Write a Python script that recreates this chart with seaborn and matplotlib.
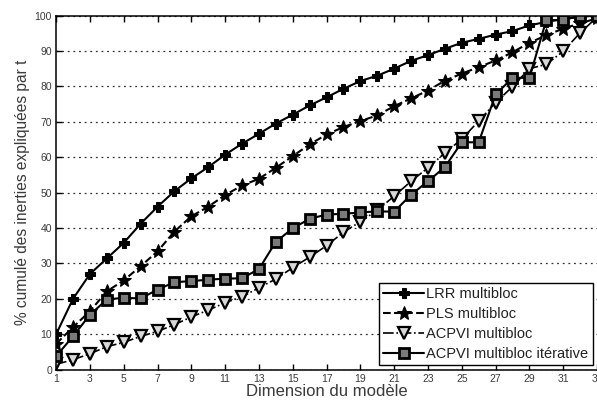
import matplotlib
matplotlib.use("Agg")
import matplotlib.pyplot as plt
import numpy as np
import seaborn as sns

# model dimension (1..33)
dims = list(range(1, 34))

# cumulative % of explained inertia
lrr = [10, 20, 27, 31.4, 35.8, 41.2, 46, 50.4, 54, 57.2, 60.7, 63.8, 66.6,
       69.5, 72, 74.6, 76.9, 79.3, 81.5, 83, 85, 87.2, 88.8, 90.6, 92.3,
       93.4, 94.6, 95.6, 97.2, 98.2, 99, 99.6, 100]
pls = [7.3, 12, 16.5, 22.1, 25.2, 29.2, 33.4, 39, 43.3, 46, 49.3, 52, 53.9,
       57, 60.3, 63.6, 66.4, 68.5, 70.2, 71.8, 74.4, 76.6, 78.8, 81.6, 83.6,
       85.4, 87.3, 89.6, 92.3, 94.4, 96.3, 97.8, 99.2]
acpvi = [1.5, 2.8, 4.5, 6.5, 7.7, 9.4, 10.8, 12.7, 14.9, 16.8, 18.9, 20.6,
         23.1, 25.6, 28.8, 31.8, 35, 38.8, 41.8, 45, 49, 53.2, 57, 61.2, 65.1,
         70.2, 75.4, 79.9, 85, 86.2, 89.9, 95.1, 99.5]
acpvi_it = [3.8, 9.4, 15.5, 19.8, 20.3, 20.1, 22.6, 24.7, 25, 25.4, 25.7,
            25.8, 28.4, 36.1, 39.9, 42.6, 43.8, 44, 44.4, 44.7, 44.6, 49.4,
            53.2, 57.2, 64.2, 64.2, 77.7, 82.4, 82.4, 98.7, 98.7, 100, 100]

xticks = list(range(1, 34, 2))
yticks = list(range(0, 101, 10))

sns.set_style("white")
plt.rcParams["font.family"] = ["Liberation Sans", "DejaVu Sans"]

fig = plt.figure(figsize=(5.97, 4.08), dpi=100)
ax = fig.add_axes([0.094, 0.094, 0.906, 0.868])

txt = "#3a3a3a"
sns.lineplot(x=dims, y=lrr, ax=ax, color="black", lw=1.5, linestyle="-",
             marker="P", markersize=7.5, markerfacecolor="black",
             markeredgecolor="black", label="LRR multibloc")
sns.lineplot(x=dims, y=pls, ax=ax, color="black", lw=1.5, linestyle="--",
             dashes=(4, 2), marker="*", markersize=10.5,
             markerfacecolor="black", markeredgecolor="black",
             label="PLS multibloc")
sns.lineplot(x=dims, y=acpvi, ax=ax, color="black", lw=1.2, linestyle="-.",
             marker="v", markersize=8.5, markerfacecolor="#d8d8d8",
             markeredgecolor="black", markeredgewidth=1.6,
             label="ACPVI multibloc")
sns.lineplot(x=dims, y=acpvi_it, ax=ax, color="black", lw=1.5, linestyle="-",
             marker="s", markersize=7, markerfacecolor="#7a7a7a",
             markeredgecolor="black", markeredgewidth=2,
             label="ACPVI multibloc itérative")

ax.set_xlim(1, 33)
ax.set_ylim(0, 100)
ax.set_xticks(xticks)
ax.set_yticks(yticks)
ax.tick_params(direction="in", length=4, width=1, colors="black",
               labelcolor=txt, labelsize=7.5, top=True, bottom=True,
               left=True, right=False, pad=3)
for s in ["left", "bottom", "top"]:
    ax.spines[s].set_color("black")
    ax.spines[s].set_linewidth(1.1)
ax.spines["right"].set_visible(False)
ax.yaxis.grid(True, linestyle=(0, (1.5, 3)), color="#333333", lw=0.9)
ax.xaxis.grid(False)

ax.set_xlabel("Dimension du modèle", fontsize=12, color=txt, labelpad=0)
ax.set_ylabel("% cumulé des inerties expliquées par t", fontsize=11.2,
              color=txt, labelpad=3)

leg = ax.legend(loc="lower right", bbox_to_anchor=(1.0, 0.0), fontsize=10.5,
                frameon=True, fancybox=False, framealpha=1,
                edgecolor="black", handlelength=2.8, handletextpad=0.15,
                labelspacing=0.4, borderpad=0.3, borderaxespad=0.3)
leg.get_frame().set_linewidth(1.0)
for t in leg.get_texts():
    t.set_color("#222222")

fig.savefig("out.png", dpi=100)
